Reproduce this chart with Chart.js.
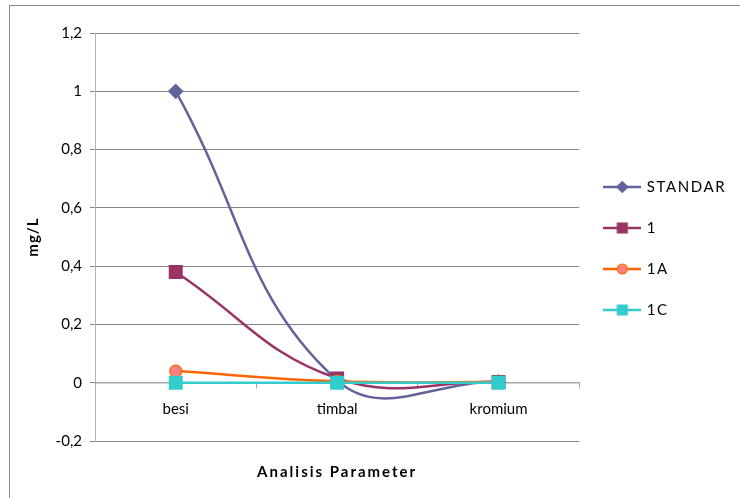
<!DOCTYPE html>
<html>
<head>
<meta charset="utf-8">
<script src="https://cdn.jsdelivr.net/npm/chart.js@4.4.0/dist/chart.umd.min.js"></script>
<style>
  html, body { margin: 0; padding: 0; background: #fff; }
</style>
</head>
<body>
<canvas id="chart" width="740" height="498"></canvas>
<script>
// ========= Data =========
const categories = ["besi", "timbal", "kromium"];
const seriesNames = ["STANDAR", "1", "1A", "1C"];
const standar = [1, 0.008, 0.003];
const sample1 = [0.38, 0.015, 0.003];
const sample1A = [0.04, 0.005, 0.002];
const sample1C = [0, 0, 0];
const yTickLabels = ["-0,2", "0", "0,2", "0,4", "0,6", "0,8", "1", "1,2"];

// ========= Styles =========
const FONT = "Lato";
const styles = [
  { line: "#62639b", fill: "#62639b", shape: "rectRot", r: 7, lr: 5.5 },
  { line: "#993366", fill: "#993366", shape: "rect", r: 9, lr: 7 },
  { line: "#ff6600", fill: "#ff8080", shape: "circle", r: 6, lr: 5 },
  { line: "#33cccc", fill: "#33cccc", shape: "rect", r: 9, lr: 7 }
];

// legend swatch: line with a marker on it (like Excel)
function swatch(st) {
  const c = document.createElement("canvas");
  c.width = 38; c.height = 14;
  const g = c.getContext("2d");
  g.strokeStyle = st.line;
  g.lineWidth = 2.5;
  g.beginPath(); g.moveTo(0, 7); g.lineTo(38, 7); g.stroke();
  g.fillStyle = st.fill;
  g.strokeStyle = st.line;
  g.lineWidth = 1.2;
  g.beginPath();
  if (st.shape === "rectRot") {
    g.moveTo(19 - st.lr, 7); g.lineTo(19, 7 - st.lr); g.lineTo(19 + st.lr, 7); g.lineTo(19, 7 + st.lr);
    g.closePath();
  } else if (st.shape === "circle") {
    g.arc(19, 7, st.lr, 0, Math.PI * 2);
  } else {
    const h = st.lr * Math.SQRT1_2;
    g.rect(19 - h, 7 - h, 2 * h, 2 * h);
  }
  g.fill(); g.stroke();
  return c;
}
const swatches = styles.map(swatch);

function dataset(i, values) {
  const st = styles[i];
  return {
    label: seriesNames[i],
    data: values,
    borderColor: st.line,
    backgroundColor: st.fill,
    borderWidth: 2.5,
    tension: 0.42,
    pointStyle: st.shape,
    pointRadius: st.r,
    pointHoverRadius: st.r,
    pointBackgroundColor: st.fill,
    pointBorderColor: st.line,
    pointBorderWidth: 1.2,
    order: 3 - i
  };
}

// outer frame
const framePlugin = {
  id: "frame",
  beforeDraw(chart) {
    const ctx = chart.ctx;
    ctx.save();
    ctx.fillStyle = "#fff";
    ctx.fillRect(0, 0, chart.width, chart.height);
    ctx.strokeStyle = "#8a8a8a";
    ctx.lineWidth = 1;
    ctx.strokeRect(9.5, 5.5, 760, 520);
    ctx.restore();
  }
};

// Excel spreads the legend / title letters a bit
function spaced(obj, key, px) {
  if (!obj || obj["_sp_" + key]) return;
  const orig = obj[key];
  obj[key] = function (...a) {
    const ctx = this.ctx;
    ctx.letterSpacing = px;
    orig.apply(this, a);
    ctx.letterSpacing = "0px";
  };
  obj["_sp_" + key] = true;
}
const spacingPlugin = {
  id: "spacing",
  afterLayout(chart) {
    spaced(chart.legend, "draw", "1.6px");
    spaced(chart.scales.x2, "drawTitle", "2px");
    spaced(chart.scales.y, "drawTitle", "1px");
  }
};

new Chart(document.getElementById("chart"), {
  type: "line",
  data: {
    labels: categories,
    datasets: [
      dataset(0, standar),
      dataset(1, sample1),
      dataset(2, sample1A),
      dataset(3, sample1C)
    ]
  },
  options: {
    responsive: false,
    animation: false,
    layout: { padding: { top: 33, right: 15, bottom: 34, left: 10 } },
    plugins: {
      tooltip: { enabled: false },
      legend: {
        position: "right",
        labels: {
          usePointStyle: true,
          pointStyleWidth: 34,
          padding: 26,
          color: "#000",
          font: { family: FONT, size: 15 },
          generateLabels: (chart) => chart.data.datasets.map((ds, i) => ({
            text: ds.label,
            pointStyle: swatches[i],
            fillStyle: "transparent",
            strokeStyle: "transparent",
            lineWidth: 0,
            fontColor: "#000",
            hidden: !chart.isDatasetVisible(i),
            datasetIndex: i
          }))
        }
      }
    },
    scales: {
      y: {
        min: -0.2,
        max: 1.2,
        afterFit: (s) => { s.width = 85; },
        ticks: {
          stepSize: 0.2,
          padding: 8,
          color: "#000",
          font: { family: FONT, size: 15 },
          callback: (v, i) => yTickLabels[i]
        },
        grid: { color: "#868686", tickLength: 5 },
        border: { color: "#b4b4b4" },
        title: {
          display: true,
          text: "mg/L",
          color: "#000",
          font: { family: FONT, size: 15, weight: "bold" },
          padding: { top: 14, bottom: 0 }
        }
      },
      x: {
        position: { y: 0 },
        offset: true,
        afterFit: (s) => { s.height = 0; },
        ticks: {
          padding: 12,
          color: "#000",
          font: { family: FONT, size: 15 }
        },
        grid: { display: true, offset: true, drawOnChartArea: false, tickLength: 5, color: "#a6a6a6" },
        border: { color: "#a6a6a6", width: 1.5 }
      },
      x2: {
        axis: "x",
        type: "category",
        position: "bottom",
        offset: true,
        afterFit: (s) => { s.height = 23; },
        ticks: { display: false },
        grid: { display: false },
        border: { display: false },
        title: {
          display: true,
          text: "Analisis Parameter",
          color: "#000",
          font: { family: FONT, size: 15, weight: "bold" },
          padding: { top: 0, bottom: -17 }
        }
      }
    }
  },
  plugins: [framePlugin, spacingPlugin]
});
</script>
</body>
</html>
